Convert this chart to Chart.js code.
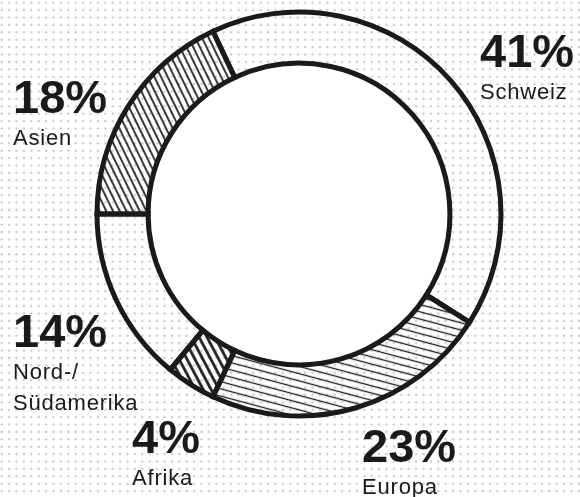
<!DOCTYPE html>
<html>
<head>
<meta charset="utf-8">
<script src="https://cdn.jsdelivr.net/npm/chart.js@4/dist/chart.umd.min.js"></script>
<style>
  html, body { margin: 0; padding: 0; background: #fff; }
  #wrap { width: 580px; height: 497px; }
</style>
</head>
<body>
<div id="wrap"><canvas id="ringChart" width="580" height="497"></canvas></div>
<script>
// Data
const categories = ['Schweiz', 'Europa', 'Afrika', 'Nord-/Südamerika', 'Asien'];
const shares = [41, 23, 4, 14, 18];
const labelLines = [['Schweiz'], ['Europa'], ['Afrika'], ['Nord-/', 'Südamerika'], ['Asien']];

const INK = '#1a1a1a';

// hatch pattern: horizontal line in a tile, rotated
function hatch(angle, gap, lw) {
  const c = document.createElement('canvas');
  c.width = 16; c.height = gap;
  const g = c.getContext('2d');
  g.fillStyle = INK;
  g.fillRect(0, (gap - lw) / 2, 16, lw);
  const ctx = document.getElementById('ringChart').getContext('2d');
  const p = ctx.createPattern(c, 'repeat');
  p.setTransform(new DOMMatrix().rotateSelf(angle));
  return p;
}

const fills = [
  'rgba(0,0,0,0)',
  hatch(15, 7, 1.3),
  hatch(62, 7, 2.7),
  'rgba(0,0,0,0)',
  hatch(64, 6, 1.7)
];

// where the labels sit (left x, baseline of the percent)
const labelPos = [
  [480, 67], [362, 462], [132, 453], [13, 347], [13, 113]
];

const backdrop = {
  id: 'backdrop',
  beforeDraw(chart) {
    const ctx = chart.ctx;
    ctx.save();
    ctx.fillStyle = '#fff';
    ctx.fillRect(0, 0, chart.width, chart.height);
    ctx.fillStyle = '#d2d2d2';
    for (let y = 2.7; y < chart.height; y += 7.4) {
      for (let x = 1.7; x < chart.width; x += 7.4) {
        ctx.beginPath();
        ctx.arc(x, y, 1.3, 0, Math.PI * 2);
        ctx.fill();
      }
    }
    ctx.restore();
  },
  beforeDatasetsDraw(chart) {
    const arc = chart.getDatasetMeta(0).data[0];
    const ctx = chart.ctx;
    ctx.save();
    ctx.fillStyle = '#fff';
    ctx.beginPath();
    ctx.arc(arc.x, arc.y, arc.innerRadius, 0, Math.PI * 2);
    ctx.fill();
    ctx.restore();
  },
  afterDraw(chart) {
    const ctx = chart.ctx;
    ctx.save();
    ctx.fillStyle = INK;
    ctx.textAlign = 'left';
    ctx.textBaseline = 'alphabetic';
    shares.forEach((v, i) => {
      const [x, y] = labelPos[i];
      ctx.font = 'bold 47px "Liberation Sans", Arial, sans-serif';
      ctx.letterSpacing = '0px';
      ctx.fillText(v + '%', x, y);
      ctx.font = '22px "Liberation Sans", Arial, sans-serif';
      ctx.letterSpacing = '0.8px';
      labelLines[i].forEach((line, j) => {
        ctx.fillText(line, x, y + 32 + j * 31);
      });
    });
    ctx.restore();
  }
};

new Chart(document.getElementById('ringChart'), {
  type: 'doughnut',
  data: {
    labels: categories,
    datasets: [{
      data: shares,
      backgroundColor: fills,
      borderColor: INK,
      borderWidth: 5,
      borderAlign: 'center',
      borderJoinStyle: 'miter'
    }]
  },
  options: {
    responsive: false,
    animation: false,
    events: [],
    rotation: -25.2,
    radius: 202,
    cutout: 158,
    layout: { padding: { left: 18, right: 0, top: 0, bottom: 69 } },
    plugins: {
      legend: { display: false },
      tooltip: { enabled: false }
    }
  },
  plugins: [backdrop]
});
</script>
</body>
</html>
